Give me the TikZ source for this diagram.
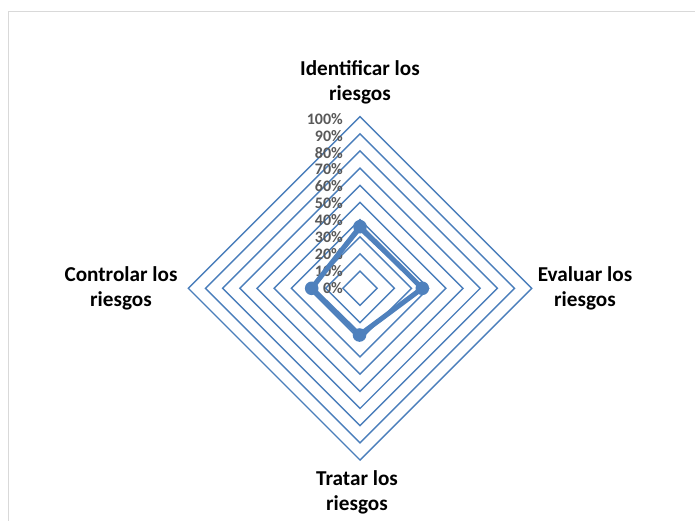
\documentclass[tikz,border=0pt]{standalone}
\usepackage{fontspec}
\setmainfont{Carlito}
\definecolor{ringblue}{HTML}{4A7EBB}
\definecolor{serblue}{HTML}{4F81BD}
\definecolor{ticktext}{HTML}{595959}
\definecolor{framegray}{HTML}{D9D9D9}
\begin{document}
\begin{tikzpicture}[x=1pt,y=-1pt,
  ring/.style={draw=ringblue,line width=1.4pt},
  serthick/.style={draw=serblue,line width=5pt,line join=round},
  serthin/.style={draw=serblue,line width=2pt,line join=round},
  marker/.style={fill=serblue},
  ticklbl/.style={text=ticktext,font=\fontsize{16}{17}\selectfont\bfseries,inner sep=0pt},
  catlbl/.style={align=center,font=\fontsize{21.2}{25}\selectfont\bfseries,inner sep=0pt}]
\useasboundingbox (0,0) rectangle (695,521);
\fill[white] (0,0) rectangle (695,521);
\draw[framegray,line width=1.2pt] (8.5,521) -- (8.5,11.5) -- (695,11.5);
% rings
\foreach \k in {1,...,10}{
  \draw[ring] (360,288.3-\k*17.17) -- (360+\k*17.17,288.3) -- (360,288.3+\k*17.17) -- (360-\k*17.17,288.3) -- cycle;
}
% tick labels
\foreach \k [evaluate=\k as \p using int(\k*10)] in {0,...,10}{
  \node[ticklbl,anchor=base east] (t\k) at (343,293.5-\k*16.93) {\p\%};
}
% series
\coordinate (a1) at (360,288.3-0.34*171.7);
\coordinate (b1) at (360+0.36*171.7,288.3);
\coordinate (c1) at (360,288.3+0.28*171.7);
\coordinate (d1) at (360-0.28*171.7,288.3);
\draw[serthin] (a1) -- (b1) -- (c1) -- (d1) -- cycle;
\coordinate (A) at (360,226.7);
\coordinate (B) at (422.3,288.3);
\coordinate (C) at (359.5,335);
\coordinate (D) at (311.7,288.3);
\draw[serthick] (A) -- (B) -- (C) -- (D) -- cycle;
\foreach \p in {A,B,C,D}{ \fill[marker] (\p) circle (6.8pt); }
% category labels
\node[catlbl] (top) at (360,82) {Identificar los\\riesgos};
\node[catlbl] (right) at (585,288) {Evaluar los\\riesgos};
\node[catlbl] (bottom) at (357,492) {Tratar los\\riesgos};
\node[catlbl] (left) at (121,288) {Controlar los\\riesgos};
\end{tikzpicture}
\end{document}
